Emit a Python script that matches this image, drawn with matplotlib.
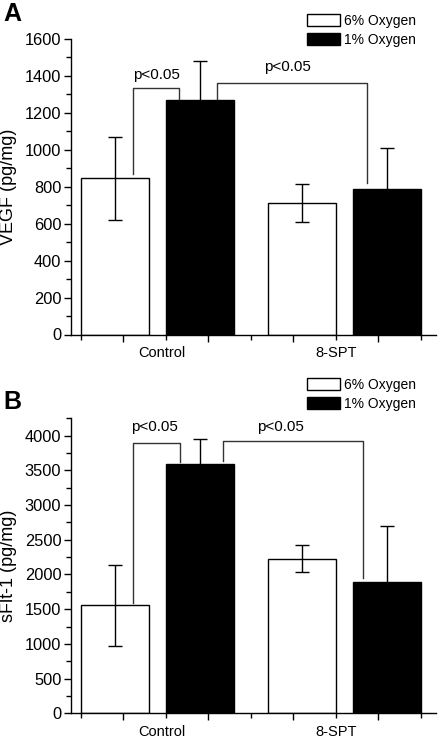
import matplotlib
matplotlib.use("Agg")
import matplotlib.pyplot as plt
from matplotlib.patches import Patch

plt.rcParams["font.family"] = ["Liberation Sans", "DejaVu Sans"]

# bar positions (data units) and group labels
WHITE_X = [0.9, 3.1]
BLACK_X = [1.9, 4.1]
GROUP_X = [1.45, 3.5]
GROUPS = ["Control", "8-SPT"]
SERIES = ["6% Oxygen", "1% Oxygen"]

# panel A: VEGF
VEGF_WHITE = [845, 711]
VEGF_WHITE_ERR = [225, 102]
VEGF_BLACK = [1270, 789]
VEGF_BLACK_ERR = [213, 222]
# brackets: (x_left, x_right, y_left_bottom, y_right_bottom, y_top), text (x, y)
VEGF_BRACKETS = [(1.11, 1.655, 867, 1275, 1336), (2.106, 3.863, 1275, 818, 1363)]
VEGF_PTEXT = [(1.39, 1405), (2.93, 1450)]

# panel B: sFlt-1
SFLT_WHITE = [1556, 2228]
SFLT_WHITE_ERR = [585, 190]
SFLT_BLACK = [3590, 1897]
SFLT_BLACK_ERR = [355, 805]
SFLT_BRACKETS = [(1.118, 1.668, 1585, 3626, 3899), (2.169, 3.816, 3635, 1945, 3919)]
SFLT_PTEXT = [(1.365, 4120), (2.85, 4120)]

W, H = 438, 738
fig = plt.figure(figsize=(W / 100, H / 100), dpi=100)


def panel(rect, white, werr, black, berr, brackets, ptext,
          ylim, major, minor, ylabel, letter, letter_y, leg_top):
    ax = fig.add_axes(rect)
    ax.bar(WHITE_X, white, width=0.8, color="white", edgecolor="black",
           linewidth=1, zorder=2)
    ax.bar(BLACK_X, black, width=0.8, color="black", edgecolor="black",
           linewidth=1, zorder=2)
    ax.errorbar(WHITE_X, white, yerr=werr, fmt="none", ecolor="black",
                elinewidth=1, capsize=5, capthick=1, zorder=3)
    ax.errorbar(BLACK_X, black, yerr=berr, fmt="none", ecolor="black",
                elinewidth=1, capsize=5, capthick=1, zorder=1)

    for (xl, xr, yl, yr, yt), (tx, ty) in zip(brackets, ptext):
        ax.plot([xl, xl, xr, xr], [yl, yt, yt, yr], color="#333333",
                linewidth=1, zorder=4)
        ax.text(tx, ty, "p<0.05", ha="center", va="center", fontsize=11)

    ax.set_xlim(0.385, 4.68)
    ax.set_ylim(*ylim)
    ax.set_yticks(range(0, ylim[1] + 1, major))
    ax.set_yticks(range(0, ylim[1] + 1, minor), minor=True)
    ax.set_xticks([1, 2, 3, 4])
    ax.set_xticks([0.5, 1.5, 2.5, 3.5, 4.5], minor=True)
    ax.set_xticklabels([])
    ax.tick_params(which="major", direction="out", length=5, width=1,
                   labelsize=11.8, pad=2)
    ax.tick_params(which="minor", direction="out", length=3.5, width=1)
    for s in ["top", "right"]:
        ax.spines[s].set_visible(False)
    for s in ["left", "bottom"]:
        ax.spines[s].set_linewidth(1)

    for gx, g in zip(GROUP_X, GROUPS):
        ax.text(gx, -18.5 / (rect[3] * H), g, transform=ax.get_xaxis_transform(),
                ha="center", va="center", fontsize=10.5)

    ax.set_ylabel(ylabel, fontsize=13)
    ax.yaxis.set_label_coords(-(71 - 17) / (rect[2] * W), 0.5)

    fig.text(3 / W, 1 - letter_y / H, letter, fontsize=18, fontweight="bold",
             ha="left", va="top")

    handles = [Patch(facecolor="white", edgecolor="black", linewidth=1),
               Patch(facecolor="black", edgecolor="black", linewidth=1)]
    fig.legend(handles, SERIES, loc="upper left",
               bbox_to_anchor=(307 / W, 1 - leg_top / H),
               frameon=False, fontsize=10, borderpad=0, borderaxespad=0,
               handlelength=2.4, handleheight=0.95, handletextpad=0.3,
               labelspacing=0.35)
    return ax


panel([71 / W, 1 - 334.5 / H, 365 / W, 295.5 / H],
      VEGF_WHITE, VEGF_WHITE_ERR, VEGF_BLACK, VEGF_BLACK_ERR,
      VEGF_BRACKETS, VEGF_PTEXT, (0, 1600), 200, 100,
      "VEGF (pg/mg)", "A", 2, 14)

panel([71 / W, 1 - 713.3 / H, 365 / W, 295 / H],
      SFLT_WHITE, SFLT_WHITE_ERR, SFLT_BLACK, SFLT_BLACK_ERR,
      SFLT_BRACKETS, SFLT_PTEXT, (0, 4250), 500, 250,
      "sFlt-1 (pg/mg)", "B", 390, 378)

fig.savefig("out.png", dpi=100)
